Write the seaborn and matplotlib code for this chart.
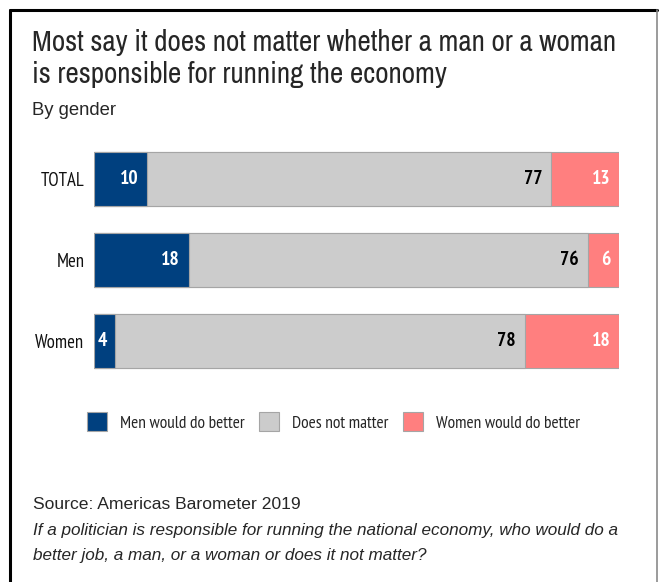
import matplotlib
matplotlib.use("Agg")
import matplotlib.pyplot as plt
from matplotlib.lines import Line2D
from matplotlib.patches import Patch
import pandas as pd
import seaborn as sns

groups = ["TOTAL", "Men", "Women"]
men_better = [10, 18, 4]
no_matter = [77, 76, 78]
women_better = [13, 6, 18]

series_names = ["Men would do better", "Does not matter", "Women would do better"]
colors = ["#00407f", "#cccccc", "#ff7f7f"]

title_lines = ["Most say it does not matter whether a man or a woman",
               "is responsible for running the economy"]
subtitle = "By gender"
source = "Source: Americas Barometer 2019"
note_lines = ["If a politician is responsible for running the national economy, who would do a",
              "better job, a man, or a woman or does it not matter?"]

df = pd.DataFrame({"group": groups, "men": men_better,
                   "nomatter": no_matter, "women": women_better})
df["c1"] = df["men"]
df["c2"] = df["men"] + df["nomatter"]
df["c3"] = df["c2"] + df["women"]

sns.set_style("white")
label_font = ["PT Sans Narrow", "DejaVu Sans"]
title_font = ["Archivo Narrow", "DejaVu Sans"]
text_font = ["Liberation Sans", "DejaVu Sans"]
plt.rcParams["font.family"] = label_font

W, H = 659, 582
fig = plt.figure(figsize=(W / 100, H / 100), dpi=100)
ax = fig.add_axes([94 / W, 1 - 381.5 / H, 525 / W, 243 / H])

edge = "#a5a5a5"
# stacked bars drawn as cumulative totals, widest first
for col, c in zip(["c3", "c2", "c1"], colors[::-1]):
    sns.barplot(data=df, y="group", x=col, color=c, width=0.667,
                edgecolor=edge, linewidth=0.8, saturation=1, ax=ax)

ax.set_xlim(0, 100)
ax.set_ylim(2.5, -0.5)
ax.set_xlabel("")
ax.set_ylabel("")
ax.set_xticks([])
sns.despine(ax=ax, left=True, bottom=True)
ax.tick_params(axis="y", length=0, pad=7)
for lab in ax.get_yticklabels():
    lab.set_fontsize(13.5)
    lab.set_color("#111111")

off = 1.6
for i, row in df.iterrows():
    ax.text(row["c1"] - off, i, str(row["men"]), ha="right", va="center",
            color="white", fontsize=14, fontweight="bold")
    ax.text(row["c2"] - off, i, str(row["nomatter"]), ha="right", va="center",
            color="black", fontsize=14, fontweight="bold")
    ax.text(row["c3"] - off, i, str(row["women"]), ha="right", va="center",
            color="white", fontsize=14, fontweight="bold")

handles = [Patch(facecolor=c, edgecolor=edge, linewidth=0.8) for c in colors]
fig.legend(handles, series_names, loc="center left", ncol=3, frameon=False,
           bbox_to_anchor=(87 / W, 1 - 422 / H), borderpad=0, borderaxespad=0,
           handlelength=1.15, handleheight=1.25, handletextpad=0.75,
           columnspacing=0.85, fontsize=12.5)

# titles and footnotes
fig.text(32 / W, 1 - 51 / H, title_lines[0], fontsize=21, va="baseline", family=title_font)
fig.text(32 / W, 1 - 83 / H, title_lines[1], fontsize=21, va="baseline", family=title_font)
fig.text(32 / W, 1 - 115 / H, subtitle, fontsize=13.3, va="baseline", family=text_font)
fig.text(33 / W, 1 - 509 / H, source, fontsize=12.6, va="baseline", family=text_font)
fig.text(33 / W, 1 - 535 / H, note_lines[0], fontsize=12.3, va="baseline",
         style="italic", family=text_font)
fig.text(33 / W, 1 - 560 / H, note_lines[1], fontsize=12.3, va="baseline",
         style="italic", family=text_font)

# frame around the graphic
fig.add_artist(Line2D([9.5 / W, 9.5 / W], [0, 1 - 9.5 / H], color="black",
                      linewidth=2.2, transform=fig.transFigure))
fig.add_artist(Line2D([9.5 / W, 657 / W], [1 - 9.5 / H, 1 - 9.5 / H], color="black",
                      linewidth=2.2, transform=fig.transFigure))
fig.add_artist(Line2D([657 / W, 657 / W], [0, 1 - 9.5 / H], color="#8a8a8a",
                      linewidth=1.2, transform=fig.transFigure))

fig.savefig("out.png", dpi=100)
